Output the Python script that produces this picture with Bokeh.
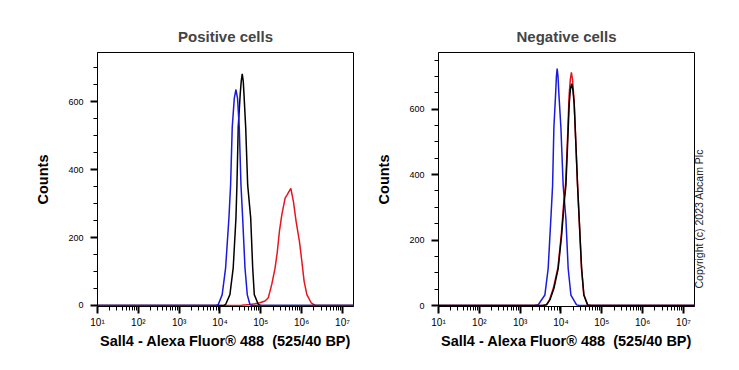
import math

from bokeh.plotting import figure
from bokeh.layouts import row
from bokeh.models import FixedTicker, CustomJSTickFormatter, Range1d, LinearAxis
from bokeh.embed import file_html
from bokeh.resources import INLINE

# Histogram traces: positions are log10 of fluorescence intensity, values are event counts.

# Positive cells
pos_blue_log = [1.0, 3.90, 3.956, 4.054, 4.138, 4.219, 4.260, 4.300, 4.350, 4.391,
                4.430, 4.472, 4.514, 4.555, 4.612, 4.668, 4.735, 4.80, 7.3]
pos_blue_counts = [0, 0, 2, 32, 111, 258, 355, 525, 610, 636,
                   610, 525, 355, 258, 111, 32, 2, 0, 0]

pos_black_log = [1.0, 4.10, 4.138, 4.243, 4.324, 4.391, 4.415, 4.447, 4.496, 4.520,
                 4.545, 4.570, 4.587, 4.629, 4.678, 4.752, 4.801, 4.840, 4.939, 5.0, 7.3]
pos_black_counts = [0, 0, 3, 32, 111, 258, 355, 526, 624, 660,
                    682, 660, 624, 526, 355, 258, 111, 32, 3, 0, 0]

pos_red_log = [1.0, 4.40, 4.531, 4.735, 4.857, 4.980, 5.103, 5.184, 5.268,
               5.349, 5.405, 5.455, 5.514, 5.595, 5.640, 5.735, 5.799, 5.865,
               5.946, 6.005, 6.061, 6.128, 6.233, 6.332, 7.3]
pos_red_counts = [0, 0, 1, 3, 5, 8, 13, 23, 62,
                  110, 159, 218, 267, 316, 325, 345, 306, 247,
                  189, 130, 71, 32, 8, 0, 0]

# Negative cells
neg_blue_log = [1.0, 3.35, 3.441, 3.605, 3.686, 3.752, 3.794, 3.826, 3.868, 3.888,
                3.907, 3.927, 3.949, 3.998, 4.054, 4.120, 4.176, 4.243, 4.382, 4.45, 7.3]
neg_blue_counts = [0, 0, 2, 32, 113, 265, 366, 543, 645, 700,
                   724, 700, 645, 543, 366, 265, 113, 32, 2, 0, 0]

neg_red_log = [1.0, 3.55, 3.640, 3.720, 3.815, 3.925, 4.010, 4.072, 4.115,
               4.158, 4.198, 4.228, 4.255, 4.283, 4.320, 4.362, 4.404, 4.443, 4.502, 4.558,
               4.650, 4.72, 7.3]
neg_red_counts = [0, 0, 2, 18, 54, 116, 220, 322, 375,
                  505, 640, 690, 712, 690, 628, 500, 370, 268, 115, 33,
                  2, 0, 0]

neg_black_log = [1.0, 3.55, 3.647, 3.728, 3.826, 3.931, 4.015, 4.078, 4.120,
                 4.162, 4.201, 4.230, 4.260, 4.290, 4.324, 4.365, 4.407, 4.446, 4.505, 4.561,
                 4.652, 4.72, 7.3]
neg_black_counts = [0, 0, 2, 17, 52, 113, 214, 315, 366,
                    493, 615, 660, 678, 660, 615, 493, 366, 265, 113, 32,
                    2, 0, 0]

decades = [1, 2, 3, 4, 5, 6, 7]
count_ticks = [0, 200, 400, 600]
copyright_text = "Copyright (c) 2023 Abcam Plc"

BLUE = "#1a1adc"
RED = "#e8141e"
BLACK = "#000000"
FONT = "Liberation Sans"


def decade_formatter():
    return CustomJSTickFormatter(code="""
const sup = ["\u2070","\u00b9","\u00b2","\u00b3","\u2074","\u2075","\u2076","\u2077","\u2078","\u2079"];
const e = Math.round(Math.log10(tick));
return "10" + sup[e];
""")


def make_panel(title, width, border_left, border_right, y_top, traces):
    p = figure(width=width, height=370, x_axis_type="log",
               x_range=Range1d(10, 10 ** 7.27), y_range=Range1d(-3, y_top),
               output_backend="svg", toolbar_location=None,
               min_border_left=border_left, min_border_right=border_right,
               min_border_top=52, min_border_bottom=64)
    p.title.text = title
    p.title.align = "center"
    p.title.text_font = FONT
    p.title.text_font_size = "15px"
    p.title.text_font_style = "bold"
    p.title.standoff = 16

    p.grid.visible = False
    p.outline_line_color = "black"
    p.outline_line_alpha = 1.0
    p.outline_line_width = 1

    p.xaxis.ticker = FixedTicker(
        ticks=[10 ** k for k in decades],
        minor_ticks=[m * 10 ** k for k in [0] + decades for m in range(2, 10)])
    p.xaxis.formatter = decade_formatter()
    p.yaxis.ticker = FixedTicker(ticks=count_ticks,
                                 minor_ticks=list(range(0, 800, 50)))

    for ax in (p.xaxis[0], p.yaxis[0]):
        ax.axis_line_color = "black"
        ax.major_tick_in = 0
        ax.major_tick_out = 7
        ax.major_tick_line_width = 2
        ax.minor_tick_in = 0
        ax.minor_tick_out = 4
        ax.minor_tick_line_width = 1
        ax.major_label_text_font = FONT
        ax.major_label_text_font_size = "9px"
        ax.major_label_text_color = "black"
        ax.axis_label_text_font = FONT
        ax.axis_label_text_font_size = "14.5px"
        ax.axis_label_text_font_style = "bold"
        ax.axis_label_text_color = "black"

    p.xaxis.major_label_text_font_size = "10px"
    p.yaxis.axis_label = "Counts"
    p.yaxis.major_label_standoff = 7
    p.yaxis.axis_label_standoff = 14
    p.xaxis.axis_label = "Sall4 - Alexa Fluor\u00ae 488\u00a0 (525/40 BP)"
    p.xaxis.major_label_standoff = 3
    p.xaxis.axis_label_standoff = 2

    for xs, ys, color in traces:
        p.line([10 ** v for v in xs], ys, line_color=color, line_width=1.5)
    return p


left = make_panel("Positive cells", 369, 97, 16, 745, [
    (pos_red_log, pos_red_counts, RED),
    (pos_black_log, pos_black_counts, BLACK),
    (pos_blue_log, pos_blue_counts, BLUE),
])

right = make_panel("Negative cells", 370, 69, 45, 773, [
    (neg_blue_log, neg_blue_counts, BLUE),
    (neg_red_log, neg_red_counts, RED),
    (neg_black_log, neg_black_counts, BLACK),
])

# Vertical copyright note just outside the right edge of the frame;
# the text runs upward starting from its tick.
note = LinearAxis(ticker=FixedTicker(ticks=[52], minor_ticks=[]),
                  formatter=CustomJSTickFormatter(code='return "%s";' % copyright_text),
                  axis_line_color=None, major_tick_line_color=None,
                  minor_tick_line_color=None, major_tick_out=0, major_tick_in=0,
                  major_label_standoff=5, major_label_orientation=math.pi / 2,
                  major_label_text_font=FONT, major_label_text_font_size="10.5px",
                  major_label_text_color="#222222")
right.add_layout(note, "right")

layout = row(left, right)
open("out.html", "w").write(file_html(layout, INLINE))
